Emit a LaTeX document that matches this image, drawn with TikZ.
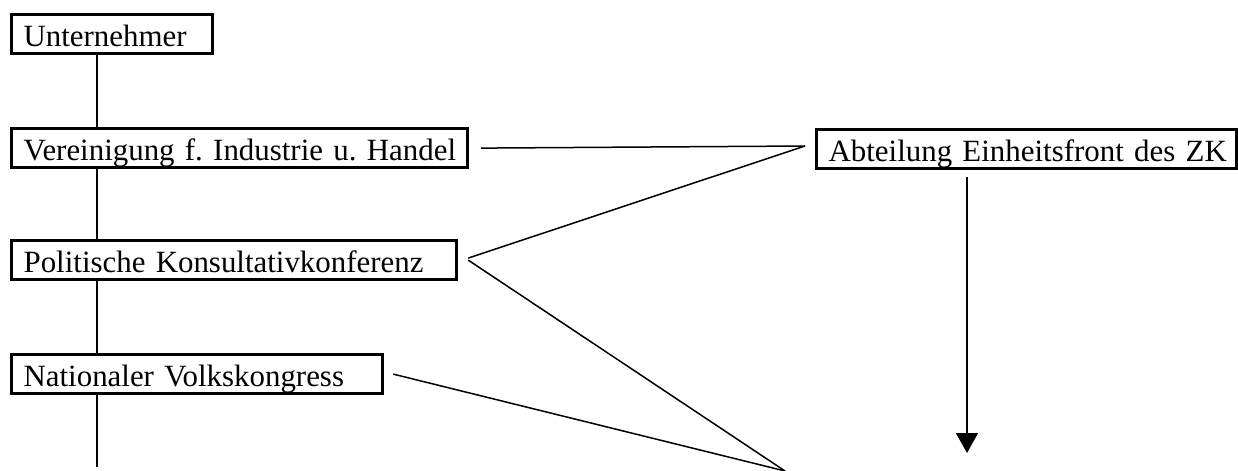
\documentclass[tikz,border=0pt]{standalone}
\usepackage{fontspec}
\setmainfont{Liberation Serif}
\usetikzlibrary{arrows.meta,calc}
\frenchspacing
\begin{document}
\begin{tikzpicture}[x=0.5pt,y=-0.5pt,
  box/.style={draw,line width=1.6pt,anchor=north west,inner xsep=6pt,inner ysep=1pt,
    text height=15pt,text depth=2.5pt,align=left,font=\fontsize{15.45pt}{18pt}\selectfont\frenchspacing},
  conn/.style={line width=0.75pt}]
\useasboundingbox (0,0) rectangle (1238,471);
\node[box,text width=88.5pt] (unt) at (10,13) {\mbox{Unternehmer}};
\node[box,text width=216pt] (ver) at (10,127) {\mbox{Vereinigung f. Industrie u. Handel}};
\node[box,text width=210.5pt] (pol) at (10,239) {\mbox{Politische Konsultativkonferenz}};
\node[box,text width=173.5pt] (nat) at (10,353) {\mbox{Nationaler Volkskongress}};
\node[box,text width=198pt] (abt) at (815,128) {\mbox{Abteilung Einheitsfront des ZK}};
\coordinate (j1) at (805,146);
\coordinate (j2) at (785,471);
\coordinate (vend) at (97,467);
\coordinate (aend) at (967,453);
% vertical chain
\draw[conn] ($(unt.south west)+(87,0)$) -- ($(ver.north west)+(87,0)$);
\draw[conn] ($(ver.south west)+(87,0)$) -- ($(pol.north west)+(87,0)$);
\draw[conn] ($(pol.south west)+(87,0)$) -- ($(nat.north west)+(87,0)$);
\draw[conn] ($(nat.south west)+(87,0)$) -- (vend);
% connectors
\draw[conn] ($(ver.east)+(12,0)$) -- (j1);
\draw[conn] ($(pol.east)+(10,-2)$) -- (j1);
\draw[conn] ($(pol.east)+(10,0)$) -- (j2);
\draw[conn] ($(nat.east)+(9,0)$) -- (j2);
\draw[conn,-{Triangle[width=11pt,length=10pt]}] ($(abt.south west)+(152,7)$) -- (aend);
\end{tikzpicture}
\end{document}
